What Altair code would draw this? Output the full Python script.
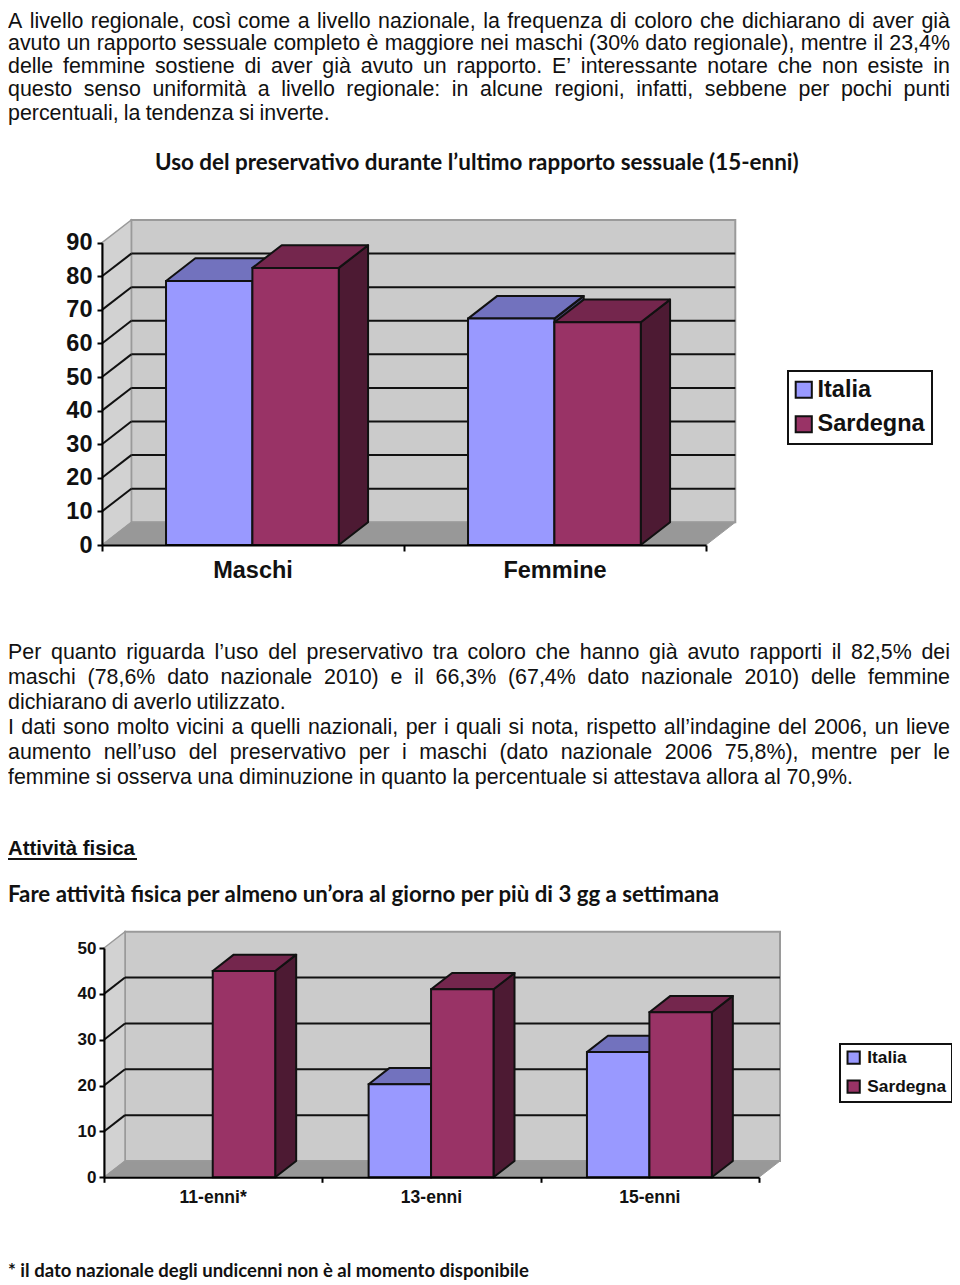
import altair as alt
import pandas as pd

# ---------- text ----------
BLOCK_1 = [
    ("A livello regionale, così come a livello nazionale, la frequenza di coloro che dichiarano di aver già", True),
    ("avuto un rapporto sessuale completo è maggiore nei maschi (30% dato regionale), mentre il 23,4%", True),
    ("delle femmine sostiene di aver già avuto un rapporto. E’ interessante notare che non esiste in", True),
    ("questo senso uniformità a livello regionale: in alcune regioni, infatti, sebbene per pochi punti", True),
    ("percentuali, la tendenza si inverte.", False),
]
BLOCK_2 = [
    ("Per quanto riguarda l’uso del preservativo tra coloro che hanno già avuto rapporti il 82,5% dei", True),
    ("maschi (78,6% dato nazionale 2010) e il 66,3% (67,4% dato nazionale 2010) delle femmine", True),
    ("dichiarano di averlo utilizzato.", False),
    ("I dati sono molto vicini a quelli nazionali, per i quali si nota, rispetto all’indagine del 2006, un lieve", True),
    ("aumento nell’uso del preservativo per i maschi (dato nazionale 2006 75,8%), mentre per le", True),
    ("femmine si osserva una diminuzione in quanto la percentuale si attestava allora al 70,9%.", False),
]
TITLE_1 = "Uso del preservativo durante l’ultimo rapporto sessuale (15-enni)"
HEADING = "Attività fisica"
TITLE_2 = "Fare attività fisica per almeno un’ora al giorno per più di 3 gg a settimana"
FOOTNOTE = "* il dato nazionale degli undicenni non è al momento disponibile"

# ---------- chart data ----------
SERIES = ["Italia", "Sardegna"]
CATS_1 = ["Maschi", "Femmine"]
ITALIA_1 = [78.6, 67.4]
SARDEGNA_1 = [82.5, 66.3]
TICKS_1 = [0, 10, 20, 30, 40, 50, 60, 70, 80, 90]
CATS_2 = ["11-enni*", "13-enni", "15-enni"]
ITALIA_2 = [None, 20.3, 27.3]
SARDEGNA_2 = [45.0, 41.0, 36.0]
TICKS_2 = [0, 10, 20, 30, 40, 50]

# ---------- styling ----------
FRONT = {"Italia": "#9999FF", "Sardegna": "#993366"}
TOP = {"Italia": "#7272BE", "Sardegna": "#74264D"}
SIDE = {"Italia": "#4D4D80", "Sardegna": "#4D1A33"}
WALL = "#CBCBCB"
SIDEWALL = "#D2D2D2"
FLOOR = "#989898"
EDGE = "#9A9A9A"
SANS = "Liberation Sans"
LATO = "Lato"
M = 8  # page margin

W = {}
for group, w in {"abdeghnopqu": 556, "cksvxyz": 500, "ft": 278, "ijl": 222, "m": 833, "r": 333, "w": 722,
                 "ABEKPSVXY": 667, "CDHNRU": 722, "FTZ": 611, "GOQ": 778, "I": 278, "J": 500, "L": 556, "M": 833,
                 "W": 944, "0123456789": 556, ",.:; ": 278, "%": 889, "()": 333, "’": 222}.items():
    for ch in group:
        W[ch] = w
ACC = str.maketrans("àèìòù", "aeiou")


def width(s, size):
    return sum(W.get(c, 556) for c in s.translate(ACC)) * size / 1000.0


def layout(block, baselines, size, left=8, right=950):
    rows = []
    for base, (line, just) in zip(baselines, block):
        words = line.split(" ")
        ws = [width(w, size) for w in words]
        if just:
            gap = (right - left - sum(ws)) / (len(words) - 1)
        else:
            gap = width(" ", size) - 3 / (len(words) - 1)
        x = left - M
        for w, wd in zip(words, ws):
            rows.append({"word": w, "px": x, "py": base - M})
            x += wd + gap
    return rows


BODY = 21.4
# the page margin keeps the first line from sitting as high as in the reference
BASE_1 = [27.5, 50, 72.5, 96, 120]
BASE_2 = [659, 684, 709, 734, 759, 784]
body_rows = layout(BLOCK_1, BASE_1, BODY) + layout(BLOCK_2, BASE_2, BODY)
body = (
    alt.Chart(pd.DataFrame(body_rows))
    .mark_text(font=SANS, fontSize=BODY, align="left", baseline="alphabetic", color="#111111")
    .encode(x=alt.X("px:Q", scale=None), y=alt.Y("py:Q", scale=None), text="word:N")
)


def label(txt, px, py, font, size, align="left", weight="bold"):
    return (
        alt.Chart(pd.DataFrame({"t": [txt]}))
        .mark_text(font=font, fontSize=size, fontWeight=weight, align=align, baseline="alphabetic", color="#111111")
        .encode(x=alt.value(px - M), y=alt.value(py - M), text="t:N")
    )


heading_rule = (
    alt.Chart(pd.DataFrame({"a": [0]}))
    .mark_rule(color="#111111", strokeWidth=2)
    .encode(x=alt.value(0), x2=alt.value(137 - M), y=alt.value(859 - M))
)

CANVAS_H = 1277


def bar3d(cats, italia, sardegna, ticks, ymax, px_x0, px_x1, px_y0, px_ytop,
          px_dx, px_dy, label_size, label_pad, xlabel_size, xlabel_base, legend_cfg, gw, tick_x, tick_y):
    n = len(cats)
    xdom, xrng = [0, n], [px_x0 - M, px_x1 - M]
    ydom, yrng = [0, ymax], [px_y0 - M, px_ytop - M]
    unit_x = (px_x1 - px_x0) / n
    unit_y = (px_y0 - px_ytop) / ymax
    dx, dy = px_dx / unit_x, px_dy / unit_y
    xs = alt.Scale(domain=xdom, range=xrng, nice=False, zero=False)
    ys = alt.Scale(domain=ydom, range=yrng, nice=False, zero=False)
    X = lambda f, **k: alt.X(f, type="quantitative", scale=xs, axis=k.pop("axis", None), **k)
    Y = lambda f, **k: alt.Y(f, type="quantitative", scale=ys, axis=k.pop("axis", None), **k)
    X2 = lambda f: alt.X2(f)
    Y2 = lambda f: alt.Y2(f)

    # walls and floor
    left = pd.DataFrame({"x": [0, dx], "y": [0, dy], "y2": [ymax, ymax + dy]})
    floor = pd.DataFrame({"y": [0, dy], "x": [0, dx], "x2": [n, n + dx]})
    back = pd.DataFrame({"x": [dx], "x2": [n + dx], "y": [dy], "y2": [ymax + dy]})
    gv = [t for t in ticks if t > 0 and t < ymax]
    grid_back = pd.DataFrame({"x": dx, "x2": n + dx, "y": [v + dy for v in gv]})
    grid_left = pd.DataFrame(
        [{"v": v, "x": 0, "y": v} for v in gv] + [{"v": v, "x": dx, "y": v + dy} for v in gv]
    )
    layers = [
        alt.Chart(back).mark_rect(fill=WALL, stroke=EDGE, strokeWidth=2).encode(
            x=X("x"), x2=X2("x2"), y=Y("y"), y2=Y2("y2")),
        alt.Chart(left).mark_area(orient="vertical", fill=SIDEWALL, stroke=EDGE, strokeWidth=1.5).encode(
            x=X("x", axis=alt.Axis(orient="bottom", values=list(range(n + 1)), labels=False, title=None, grid=False,
                                   domainColor="black", domainWidth=2, tickColor="black", tickWidth=2, tickSize=tick_x,
                                   offset=(px_y0 - M) - CANVAS_H, zindex=1)),
            y=Y("y", axis=alt.Axis(orient="left", values=ticks, title=None, grid=False, domainColor="black",
                                   domainWidth=2, tickColor="black", tickWidth=2, tickSize=tick_y,
                                   labelFont=SANS, labelFontSize=label_size, labelFontWeight="bold",
                                   labelColor="#111111", labelPadding=label_pad, offset=-(px_x0 - M), zindex=1)),
            y2=Y2("y2")),
        alt.Chart(floor).mark_area(orient="horizontal", fill=FLOOR, stroke=EDGE, strokeWidth=1).encode(
            y=Y("y"), x=X("x"), x2=X2("x2")),
        alt.Chart(grid_back).mark_rule(color="#111111", strokeWidth=gw).encode(
            x=X("x"), x2=X2("x2"), y=Y("y")),
        alt.Chart(grid_left).mark_line(color="#111111", strokeWidth=gw).encode(
            x=X("x"), y=Y("y"), detail="v:N"),
    ]

    # bars: Italia before Sardegna in each category
    first = 0.212
    bw = 0.286
    for i in range(n):
        for j, (name, vals) in enumerate(zip(SERIES, [italia, sardegna])):
            v = vals[i]
            if v is None:
                continue
            x0 = i + first + j * bw
            x1 = x0 + bw
            side = pd.DataFrame({"x": [x1, x1 + dx], "y": [0, dy], "y2": [v, v + dy]})
            top = pd.DataFrame({"y": [v, v + dy], "x": [x0, x0 + dx], "x2": [x1, x1 + dx]})
            front = pd.DataFrame({"series": [name], "x": [x0], "x2": [x1], "y": [0], "y2": [v]})
            layers.append(alt.Chart(side).mark_area(orient="vertical", fill=SIDE[name], stroke="#111111",
                                                    strokeWidth=2, strokeJoin="round").encode(
                x=X("x"), y=Y("y"), y2=Y2("y2")))
            layers.append(alt.Chart(top).mark_area(orient="horizontal", fill=TOP[name], stroke="#111111",
                                                   strokeWidth=2, strokeJoin="round").encode(
                y=Y("y"), x=X("x"), x2=X2("x2")))
            layers.append(alt.Chart(front).mark_rect(stroke="#111111", strokeWidth=2).encode(
                x=X("x"), x2=X2("x2"), y=Y("y"), y2=Y2("y2"),
                color=alt.Color("series:N", scale=alt.Scale(domain=SERIES, range=[FRONT[s] for s in SERIES]),
                                legend=None)))

    # legend carried by an empty-looking layer
    legend_df = pd.DataFrame({"series": SERIES, "x": [0, 0], "y": [0, 0]})
    layers.append(alt.Chart(legend_df).mark_square(size=0, opacity=1).encode(
        x=X("x"), y=Y("y"),
        color=alt.Color("series:N", scale=alt.Scale(domain=SERIES, range=[FRONT[s] for s in SERIES]),
                        legend=alt.Legend(**legend_cfg))))

    # category labels
    lab = pd.DataFrame({"c": cats, "x": [i + 0.5 for i in range(n)]})
    layers.append(alt.Chart(lab).mark_text(font=SANS, fontSize=xlabel_size, fontWeight="bold", color="#111111",
                                           baseline="alphabetic").encode(
        x=X("x"), y=alt.value(xlabel_base - M), text="c:N"))
    return layers


def legend_cfg(lx, ly, size, sym, row, pad, off, sym_off):
    return dict(orient="none", legendX=lx - M, legendY=ly - M, title=None, fillColor="white", strokeColor="#111111",
                labelFont=SANS, labelFontSize=size, labelFontWeight="bold", labelColor="#111111",
                symbolType="square", symbolSize=sym, symbolStrokeColor="#111111", symbolStrokeWidth=2,
                symbolOpacity=1, rowPadding=row, padding=pad, labelOffset=off, symbolOffset=sym_off)


c1 = bar3d(CATS_1, ITALIA_1, SARDEGNA_1, TICKS_1, 90, 102, 706, 545, 242.7, 29.3, 22.7, 23.5, 5, 23.5, 578,
           legend_cfg(788, 371, 23.5, 260, 9.5, 7, 2, -3), 2, 6, 5)
c2 = bar3d(CATS_2, ITALIA_2, SARDEGNA_2, TICKS_2, 50, 104, 759, 1177.3, 948, 21, 16.3, 17, 3, 17.5, 1203,
           legend_cfg(840, 1044, 17.3, 150, 8, 5, 5, 0), 2, 5, 5)

texts = [
    body,
    label(TITLE_1, 155, 170, LATO, 22.4),
    label(HEADING, 8, 855, SANS, 20.4),
    heading_rule,
    label(TITLE_2, 8, 902, LATO, 22.25),
    label(FOOTNOTE, 8, 1277, LATO, 18.5),
]

chart = (
    alt.layer(*c1, *c2, *texts)
    .resolve_scale(x="independent", y="independent", color="independent")
    .properties(
        width=944,
        height=CANVAS_H,
        padding=0,
        autosize=alt.AutoSizeParams(type="none", contains="content"),
        background="white",
    )
    .configure_view(stroke=None)
    .configure_legend(strokeWidth=2)
)

chart.save("out.html", embed_options={"renderer": "svg", "actions": False})
